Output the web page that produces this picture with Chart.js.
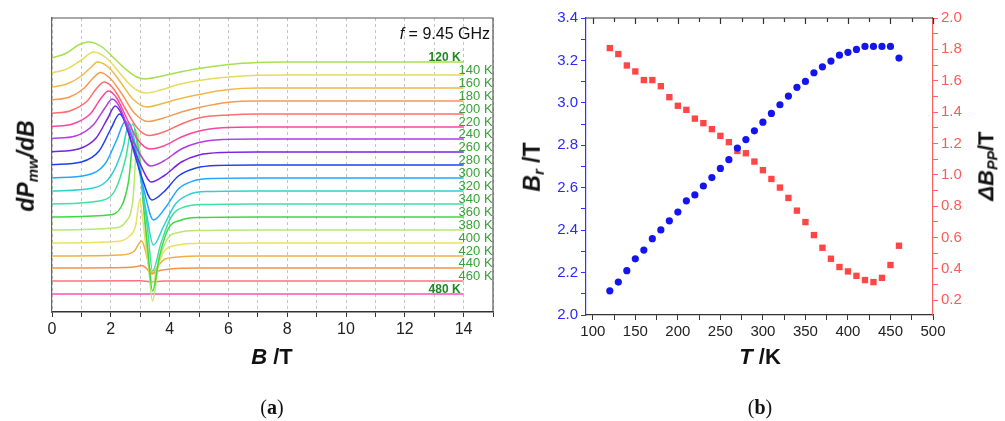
<!DOCTYPE html>
<html>
<head>
<meta charset="utf-8">
<script src="https://cdn.jsdelivr.net/npm/chart.js@4.4.1/dist/chart.umd.min.js"></script>
<style>
  body { margin: 0; background: #fff; width: 1005px; height: 421px; overflow: hidden; position: relative;
         font-family: "Liberation Sans", Arial, sans-serif; }
  .box { position: absolute; top: 0; }
  .lbl { position: absolute; white-space: nowrap; transform: translate(-50%, -50%); font-weight: bold; color: #111; }
  .rot { transform: translate(-50%, -50%) rotate(-90deg); }
  .lbl sub { font-size: 65%; vertical-align: -0.3em; }
  .cap { position: absolute; transform: translate(-50%, -50%); font-family: "Liberation Serif", serif; font-size: 20px; color: #111; }
</style>
</head>
<body>
<div class="box" style="left:0;width:505px;height:380px"><canvas id="spec" width="505" height="380"></canvas></div>
<div class="box" style="left:505px;width:500px;height:380px"><canvas id="temp" width="500" height="380"></canvas></div>

<div class="lbl rot" style="left:27px;top:166px;font-size:23px"><i>dP</i><sub><i>mw</i></sub><i>/dB</i></div>
<div class="lbl" style="left:272px;top:357px;font-size:22px"><i>B</i> /T</div>
<div class="lbl rot" style="left:533px;top:167px;font-size:23px"><i>B</i><sub><i>r</i></sub> /T</div>
<div class="lbl rot" style="left:987px;top:166px;font-size:22px"><i>&Delta;B</i><sub><i>PP</i></sub>/T</div>
<div class="lbl" style="left:760px;top:357px;font-size:22px"><i>T</i> /K</div>
<div style="position:absolute;right:515px;top:25px;font-size:16px;color:#111"><i>f</i> = 9.45 GHz</div>
<div class="cap" style="left:272px;top:407px">(<b>a</b>)</div>
<div class="cap" style="left:760px;top:407px">(<b>b</b>)</div>

<script>
// ---- panel (a): EPR spectra, signal read relative to each baseline (arb. units)
const temps = [120, 140, 160, 180, 200, 220, 240, 260, 280, 300, 320, 340, 360, 380, 400, 420, 440, 460, 480];
const offsets = [250, 237, 224, 211, 198, 185, 173, 160, 147, 134, 121, 108, 95, 82, 69, 56, 44, 31, 18];
const colors = ['#a6e04e', '#e6dc5c', '#f0b848', '#f59a55', '#ff6e6e', '#ff44a0', '#b040e0', '#7424e4', '#2040ec',
                '#22a8ff', '#30d0d0', '#40e0a0', '#40d840', '#b8e870', '#ece060', '#f0b040', '#f8904a', '#ff7080', '#ff50b0'];

const spec120 = [[0,4],[0.5,9],[0.9,17],[1.27,20],[1.7,15],[2.1,4],[2.5,-7],[2.85,-14.5],[3.15,-17],[3.6,-15],[4.2,-11],[5,-6.5],[6,-2.5],[7,-0.5],[8,0],[14,0]];
const spec140 = [[0,2],[0.5,6],[1.0,15],[1.42,23],[1.85,17],[2.25,4],[2.6,-8],[2.9,-15.5],[3.2,-18],[3.7,-15],[4.3,-9.5],[5,-5.5],[6,-2],[7,-0.3],[8,0],[14,0]];
const spec160 = [[0,1],[0.5,4],[1.0,12],[1.3,20],[1.55,26],[1.95,20],[2.35,5],[2.75,-11],[3.22,-19],[3.7,-16],[4.3,-11],[5,-6.5],[6,-1.5],[7,0],[14,0]];
const spec180 = [[0,1],[0.6,4],[1.1,13],[1.4,23],[1.65,28.5],[2.0,22],[2.4,6],[2.8,-12],[3.27,-20.5],[3.8,-17],[4.4,-11],[5,-6.5],[6,-1.3],[7,0],[14,0]];
const spec200 = [[0,0.7],[0.6,3],[1.2,13],[1.5,25],[1.78,32],[2.1,25],[2.5,5],[2.9,-14],[3.3,-21.5],[3.8,-18],[4.4,-10],[5,-4],[6,-1],[7,0],[14,0]];
const spec220 = [[0,0.5],[0.7,3],[1.3,13],[1.65,28],[1.92,36],[2.2,29],[2.55,8],[2.9,-12],[3.33,-22],[3.8,-19],[4.4,-10],[5,-4],[5.8,-0.8],[7,0],[14,0]];
const spec240 = [[0,0.5],[0.8,3],[1.4,14],[1.8,31],[2.05,40],[2.3,32],[2.6,10],[2.95,-13],[3.35,-27],[3.8,-22],[4.4,-10],[5,-3.5],[5.8,-0.5],[7,0],[14,0]];
const spec260 = [[0,0.3],[0.9,3],[1.5,14],[1.9,34],[2.15,46],[2.4,36],[2.7,10],[3.0,-12],[3.38,-30],[3.8,-24],[4.4,-10],[5,-3],[5.8,-0.5],[7,0],[14,0]];
const spec280 = [[0,0.3],[1.0,3],[1.6,14],[2.0,36],[2.3,51],[2.55,38],[2.8,12],[3.05,-12],[3.4,-35],[3.8,-27],[4.3,-11],[4.9,-3],[5.6,-0.5],[7,0],[14,0]];
const spec300 = [[0,0],[1.2,3],[1.8,14],[2.2,38],[2.5,57],[2.72,42],[2.95,12],[3.15,-15],[3.45,-42],[3.85,-30],[4.3,-11],[4.8,-3],[5.5,-0.5],[7,0],[14,0]];
const spec320 = [[0,0],[1.4,3],[2.0,15],[2.4,42],[2.63,68],[2.82,48],[3.0,15],[3.2,-20],[3.45,-54],[3.8,-35],[4.2,-13],[4.7,-3],[5.3,-0.5],[7,0],[14,0]];
const spec340 = [[0,0],[1.6,3],[2.15,14],[2.5,45],[2.75,80],[2.92,55],[3.08,15],[3.25,-25],[3.42,-67],[3.7,-40],[4.05,-13],[4.5,-3],[5.2,-0.5],[7,0],[14,0]];
const spec360 = [[0,0],[1.9,2],[2.35,10],[2.6,35],[2.82,88],[2.97,60],[3.1,15],[3.25,-30],[3.42,-74],[3.65,-40],[3.95,-12],[4.4,-3],[5,-0.5],[7,0],[14,0]];
const spec380 = [[0,0],[2.1,2],[2.5,8],[2.75,30],[2.92,97],[3.03,60],[3.15,10],[3.28,-35],[3.42,-71],[3.62,-35],[3.9,-10],[4.3,-2.5],[5,-0.5],[7,0],[14,0]];
const spec400 = [[0,0],[2.2,1.5],[2.6,6],[2.85,18],[2.98,43],[3.08,25],[3.2,-5],[3.3,-25],[3.42,-40],[3.6,-22],[3.85,-7],[4.3,-2],[5,-0.3],[7,0],[14,0]];
const spec420 = [[0,0],[2.3,1],[2.8,5],[3.05,15],[3.18,5],[3.3,-10],[3.42,-17],[3.6,-10],[3.85,-3],[4.3,-1],[5,0],[14,0]];
const spec440 = [[0,0],[2.5,0.5],[2.9,1.5],[3.05,2.5],[3.2,0],[3.4,-6],[3.6,-3],[4,-1],[5,0],[14,0]];
const spec460 = [[0,0],[3.0,0.3],[3.4,-0.8],[3.8,0],[14,0]];
const spec480 = [[0,0],[14,0]];
const spectra = [spec120, spec140, spec160, spec180, spec200, spec220, spec240, spec260, spec280, spec300,
                 spec320, spec340, spec360, spec380, spec400, spec420, spec440, spec460, spec480];

// ---- panel (b): resonance field and linewidth vs temperature
const tempK = [120, 130, 140, 150, 160, 170, 180, 190, 200, 210, 220, 230, 240, 250, 260, 270, 280, 290,
               300, 310, 320, 330, 340, 350, 360, 370, 380, 390, 400, 410, 420, 430, 440, 450, 460];
const brT = [2.114, 2.155, 2.209, 2.265, 2.306, 2.360, 2.401, 2.444, 2.485, 2.538, 2.566, 2.608, 2.648, 2.691,
             2.732, 2.787, 2.827, 2.868, 2.909, 2.950, 2.991, 3.032, 3.073, 3.101, 3.142, 3.170, 3.197, 3.225,
             3.238, 3.252, 3.266, 3.266, 3.266, 3.266, 3.211];
const dBppT = [1.808, 1.770, 1.697, 1.659, 1.604, 1.604, 1.565, 1.495, 1.440, 1.414, 1.358, 1.329, 1.291, 1.248,
               1.208, 1.152, 1.137, 1.084, 1.029, 0.973, 0.918, 0.852, 0.771, 0.698, 0.615, 0.534, 0.464, 0.411,
               0.383, 0.355, 0.328, 0.315, 0.342, 0.424, 0.547];

const tickFont = { family: '"Liberation Sans", Arial, sans-serif', size: 15 };

// frame: top + right lines of panel (a)
const frameA = {
  id: 'frameA',
  afterDraw(chart) {
    const { ctx, chartArea: a } = chart;
    ctx.save();
    ctx.strokeStyle = '#555';
    ctx.lineWidth = 1.2;
    ctx.beginPath();
    ctx.moveTo(a.left, a.top); ctx.lineTo(a.right, a.top); ctx.lineTo(a.right, a.bottom);
    ctx.stroke();
    ctx.restore();
  }
};

// temperature labels next to each baseline
const tempLabels = {
  id: 'tempLabels',
  afterDatasetsDraw(chart) {
    const { ctx, scales: { x, y } } = chart;
    const xr = x.getPixelForValue(14);
    ctx.save();
    ctx.textBaseline = 'middle';
    temps.forEach((t, i) => {
      const yy = y.getPixelForValue(offsets[i]) - 4.5;
      const bold = i === 0 || i === temps.length - 1;
      ctx.font = (bold ? 'bold 12px ' : '13px ') + '"Liberation Sans", Arial, sans-serif';
      ctx.fillStyle = bold ? '#1f8a1f' : '#36a336';
      if (bold) { ctx.textAlign = 'right'; ctx.fillText(t + ' K', xr - 3, yy); }
      else { ctx.textAlign = 'left'; ctx.fillText(t + ' K', xr - 5, yy); }
    });
    ctx.restore();
  }
};

new Chart(document.getElementById('spec'), {
  type: 'line',
  data: {
    datasets: spectra.map((s, i) => ({
      label: temps[i] + ' K',
      data: s.map(p => ({ x: p[0], y: offsets[i] + p[1] })),
      borderColor: colors[i],
      borderWidth: 1.5,
      pointRadius: 0,
      cubicInterpolationMode: 'monotone'
    }))
  },
  options: {
    responsive: false,
    animation: false,
    layout: { padding: { top: 18, right: 12, left: 0, bottom: 0 } },
    plugins: { legend: { display: false }, tooltip: { enabled: false } },
    scales: {
      x: {
        type: 'linear', min: 0, max: 15,
        ticks: { stepSize: 1, color: '#222', font: { ...tickFont, size: 16 }, padding: 3, maxRotation: 0, autoSkip: false,
                 callback: v => (v % 2 === 0 ? v : '') },
        grid: { color: '#c4c4c4', tickColor: '#333', tickLength: 5, lineWidth: 1, tickBorderDash: [] },
        border: { color: '#333', width: 1.5, dash: [3, 3] },
        afterFit(s) { s.height = 68; }
      },
      y: {
        min: 0, max: 294,
        ticks: { display: false },
        grid: { display: false },
        border: { color: '#666', width: 1.2 },
        afterFit(s) { s.width = 52; }
      }
    }
  },
  plugins: [frameA, tempLabels]
});

// frame + inward top ticks of panel (b)
const frameB = {
  id: 'frameB',
  afterDraw(chart) {
    const { ctx, chartArea: a, scales: { x } } = chart;
    ctx.save();
    ctx.strokeStyle = '#333';
    ctx.lineWidth = 1.2;
    ctx.beginPath();
    ctx.moveTo(a.left, a.top); ctx.lineTo(a.right, a.top);
    x.ticks.forEach(t => {
      const px = Math.round(x.getPixelForValue(t.value)) + 0.5;
      ctx.moveTo(px, a.top); ctx.lineTo(px, a.top + (t.value % 50 === 0 ? 6 : 4));
    });
    ctx.stroke();
    ctx.restore();
  }
};

new Chart(document.getElementById('temp'), {
  type: 'scatter',
  data: {
    datasets: [
      { label: 'Br', data: tempK.map((t, i) => ({ x: t, y: brT[i] })), yAxisID: 'y',
        pointStyle: 'circle', pointRadius: 3.6, backgroundColor: '#1414f0', borderWidth: 0 },
      { label: 'dBpp', data: tempK.map((t, i) => ({ x: t, y: dBppT[i] })), yAxisID: 'y1',
        pointStyle: 'rect', pointRadius: 4.5, backgroundColor: '#ff4646', borderWidth: 0 }
    ]
  },
  options: {
    responsive: false,
    animation: false,
    layout: { padding: { top: 18, right: 0, left: 0, bottom: 0 } },
    plugins: { legend: { display: false }, tooltip: { enabled: false } },
    scales: {
      x: {
        type: 'linear', min: 92, max: 500,
        ticks: { stepSize: 25, includeBounds: false, color: '#222', font: tickFont, padding: 3, maxRotation: 0, autoSkip: false,
                 callback: v => (v % 50 === 0 ? v : '') },
        grid: { drawOnChartArea: false, tickColor: '#333', tickLength: 5 },
        border: { color: '#333', width: 1.2 },
        afterFit(s) { s.height = 65; }
      },
      y: {
        position: 'left', min: 2.0, max: 3.4,
        ticks: { stepSize: 0.1, color: '#2a2aff', font: tickFont, padding: 3, autoSkip: false,
                 callback: v => (Math.round(v * 10) % 2 === 0 ? v.toFixed(1) : '') },
        grid: { drawOnChartArea: false, tickColor: '#3030ff', tickLength: 5 },
        border: { color: '#3030ff', width: 1.2 },
        afterFit(s) { s.width = 81; }
      },
      y1: {
        position: 'right', min: 0.105, max: 2.0,
        ticks: { stepSize: 0.1, includeBounds: false, color: '#ff5a5a', font: tickFont, padding: 3, autoSkip: false,
                 callback: v => (Math.round(v * 10) % 2 === 0 ? v.toFixed(1) : '') },
        grid: { drawOnChartArea: false, tickColor: '#ff6060', tickLength: 5 },
        border: { color: '#ff6060', width: 1.2 },
        afterFit(s) { s.width = 72; }
      }
    }
  },
  plugins: [frameB]
});
</script>
</body>
</html>
